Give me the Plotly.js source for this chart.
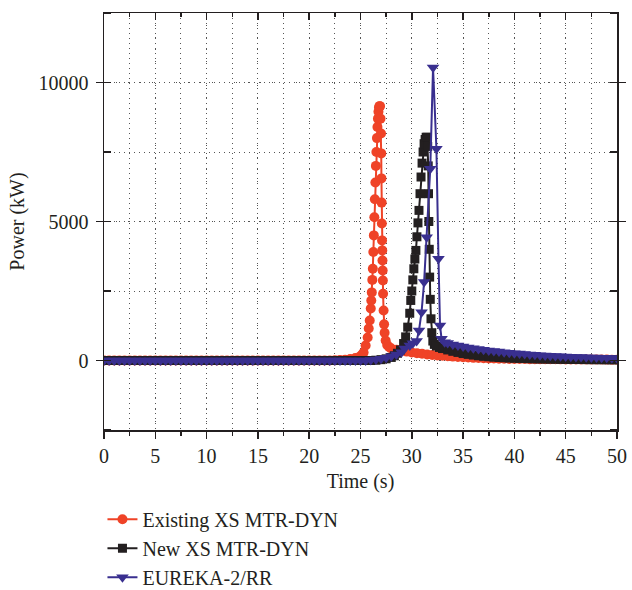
<!DOCTYPE html>
<html>
<head>
<meta charset="utf-8">
<script src="https://cdn.plot.ly/plotly-3.0.1.min.js"></script>
<style>html,body{margin:0;padding:0;background:#fff;}#chart{width:632px;height:590px;}</style>
</head>
<body>
<div id="chart"></div>
<script>
// ---- Data ----
const seriesNames = ["Existing XS MTR-DYN", "New XS MTR-DYN", "EUREKA-2/RR"];

const tExisting = [0,0.5,1,1.5,2,2.5,3,3.5,4,4.5,5,5.5,6,6.5,7,7.5,8,8.5,9,9.5,10,10.5,11,11.5,12,12.5,13,13.5,14,14.5,15,15.5,16,16.5,17,17.5,18,18.5,19,19.5,20,20.5,21,21.5,22,
  22.5,23,23.5,24,24.5,25,25.2,25.3,25.5,25.7,25.8,25.9,26.0,26.05,26.1,26.15,26.2,26.25,26.3,26.35,26.4,26.45,26.5,26.55,26.6,26.65,26.7,26.75,26.8,26.85,26.9,26.95,27.0,27.02,27.04,27.06,27.08,27.1,27.12,27.14,27.16,27.18,27.2,27.25,27.3,27.35,27.45,27.6,27.8,
  28,28.5,29,29.5,30,30.5,31,31.5,32,32.5,33,33.5,34,34.5,35,35.5,36,36.5,37,37.5,38,38.5,39,39.5,40,40.5,41,41.5,42,42.5,43,43.5,44,44.5,45,45.5,46,46.5,47,47.5,48,48.5,49,49.5,50];
const pExisting = [0,0,0,0,0,0,0,0,0,0,0,0,0,0,0,0,0,0,0,0,0,0,0,0,0,0,0,0,0,0,0,0,0,0,0,0,0,0,0,0,0,0,0,0,0,
  5,15,30,50,90,160,220,290,540,830,1150,1440,1870,2160,2450,2900,3300,3900,4500,5150,5800,6400,7000,7500,8000,8400,8700,8950,9100,9150,9150,8700,8165,7450,6550,5680,4930,4320,3960,3600,3240,2880,2400,1800,1300,1000,720,560,480,
  430,390,350,320,290,265,240,215,195,180,170,155,140,128,115,105,95,88,80,75,70,66,62,58,55,53,51,49,47,45,44,43,42,41,40,39,38,37,36,35,34,33,32,31,30];

const tNew = [0,0.5,1,1.5,2,2.5,3,3.5,4,4.5,5,5.5,6,6.5,7,7.5,8,8.5,9,9.5,10,10.5,11,11.5,12,12.5,13,13.5,14,14.5,15,15.5,16,16.5,17,17.5,18,18.5,19,19.5,20,20.5,21,21.5,22,22.5,23,23.5,24,24.5,25,25.5,26,
  26.5,27,27.5,28,28.3,28.6,28.9,29.2,29.4,29.6,29.8,29.9,30.0,30.1,30.2,30.3,30.4,30.5,30.6,30.7,30.8,30.9,31.0,31.1,31.2,31.3,31.4,31.5,31.55,31.6,31.63,31.66,31.7,31.74,31.8,31.87,31.95,32.05,32.2,32.4,32.7,
  33,33.5,34,34.5,35,35.5,36,36.5,37,37.5,38,38.5,39,39.5,40,40.5,41,41.5,42,42.5,43,43.5,44,44.5,45,45.5,46,46.5,47,47.5,48,48.5,49,49.5,50];
const pNew = [0,0,0,0,0,0,0,0,0,0,0,0,0,0,0,0,0,0,0,0,0,0,0,0,0,0,0,0,0,0,0,0,0,0,0,0,0,0,0,0,0,0,0,0,0,0,0,0,0,0,0,0,0,
  10,30,60,110,170,260,380,610,850,1200,1700,2160,2500,2900,3300,3650,3960,4450,4950,5400,6000,6600,7100,7500,7800,7950,8030,8030,7700,7000,6000,5000,4000,3000,2200,1500,1000,700,580,520,470,
  430,380,330,290,250,220,195,170,150,135,120,108,98,90,82,76,70,65,60,56,52,49,46,43,40,38,36,34,32,30,29,28,26,25,24];

const tEureka = [0,0.5,1,1.5,2,2.5,3,3.5,4,4.5,5,5.5,6,6.5,7,7.5,8,8.5,9,9.5,10,10.5,11,11.5,12,12.5,13,13.5,14,14.5,15,15.5,16,16.5,17,17.5,18,18.5,19,19.5,20,20.5,21,21.5,22,22.5,23,23.5,24,24.5,25,25.5,26,
  26.5,27,27.5,28,28.5,29.0,29.3,29.8,30.1,30.47,30.7,30.95,31.2,31.45,31.8,32.07,32.4,32.6,32.75,32.9,33.2,33.5,
  34,34.5,35,35.5,36,36.5,37,37.5,38,38.5,39,39.5,40,40.5,41,41.5,42,42.5,43,43.5,44,44.5,45,45.5,46,46.5,47,47.5,48,48.5,49,49.5,50];
const pEureka = [0,0,0,0,0,0,0,0,0,0,0,0,0,0,0,0,0,0,0,0,0,0,0,0,0,0,0,0,0,0,0,0,0,0,0,0,0,0,0,0,0,0,0,0,0,0,0,0,0,0,0,0,20,
  40,60,100,150,220,300,430,540,620,700,1080,1740,2820,4430,6900,10540,7620,3660,1260,780,660,630,
  580,540,500,470,440,410,385,360,340,320,300,280,265,250,235,220,205,190,178,168,158,150,142,135,128,122,115,110,105,100,95,90,85];

const xTickVals = [0,5,10,15,20,25,30,35,40,45,50];
const yTickVals = [0,5000,10000];

// ---- Styles ----
const colors = ["#ef4327", "#231f20", "#392f8f"];
const ink = "#231f20";
const gridCol = "#555555";

const traces = [
  {x: tExisting, y: pExisting, name: seriesNames[0], type: "scatter", mode: "lines+markers",
   line: {color: colors[0], width: 2}, marker: {symbol: "circle", size: 10, color: colors[0]}},
  {x: tNew, y: pNew, name: seriesNames[1], type: "scatter", mode: "lines+markers",
   line: {color: colors[1], width: 2}, marker: {symbol: "square", size: 9, color: colors[1]}},
  {x: tEureka, y: pEureka, name: seriesNames[2], type: "scatter", mode: "lines+markers",
   line: {color: colors[2], width: 2}, marker: {symbol: "triangle-down", size: 11, color: colors[2]}},
  {x: [], y: [], xaxis: "x2", showlegend: false, hoverinfo: "skip", type: "scatter", mode: "markers"}
];

const layout = {
  width: 632, height: 590,
  margin: {l: 104, r: 15, t: 13, b: 160},
  paper_bgcolor: "#fff", plot_bgcolor: "#fff",
  font: {family: "Liberation Serif, 'DejaVu Serif', serif", size: 20, color: ink},
  showlegend: true,
  legend: {x: -0.003, y: 0.153, yref: "container", xanchor: "left", yanchor: "top",
           bgcolor: "rgba(0,0,0,0)", font: {size: 20, color: ink}, tracegroupgap: 0},
  xaxis: {
    range: [0, 50], tickvals: xTickVals, ticktext: xTickVals.map(String),
    ticks: "outside", ticklen: 7, tickwidth: 1.5, tickcolor: ink,
    showline: true, linewidth: 1.5, linecolor: ink, mirror: true,
    showgrid: true, gridcolor: gridCol, gridwidth: 1, griddash: "1px,11px", zeroline: false,
    minor: {dtick: 2.5, tick0: 0, ticks: "outside", ticklen: 4, tickwidth: 1.5, tickcolor: ink,
            showgrid: true, gridcolor: gridCol, gridwidth: 1, griddash: "1px,4px"},
    tickfont: {size: 20},
    title: {text: "Time (s)", font: {size: 20}, standoff: 8}
  },
  xaxis2: {
    overlaying: "x", side: "top", anchor: "y", range: [0, 50], tickvals: xTickVals,
    showticklabels: false, ticks: "inside", ticklen: 7, tickwidth: 1.5, tickcolor: ink,
    showgrid: false, showline: false, zeroline: false,
    minor: {dtick: 2.5, tick0: 0, ticks: "inside", ticklen: 4, tickwidth: 1.5, tickcolor: ink, showgrid: false}
  },
  yaxis: {
    range: [-2500, 12500], tickvals: yTickVals, ticktext: yTickVals.map(String),
    ticks: "outside", ticklen: 7, tickwidth: 1.5, tickcolor: ink,
    showline: true, linewidth: 1.5, linecolor: ink, mirror: "allticks",
    showgrid: true, gridcolor: gridCol, gridwidth: 1, griddash: "1px,11px", zeroline: false,
    minor: {dtick: 2500, tick0: 0, ticks: "inside", ticklen: 5, tickwidth: 1.5, tickcolor: ink,
            showgrid: true, gridcolor: gridCol, gridwidth: 1, griddash: "1px,4px"},
    tickfont: {size: 20}, ticklabelstandoff: 3,
    title: {text: "Power (kW)", font: {size: 20}, standoff: 8}
  }
};

Plotly.newPlot("chart", traces, layout, {staticPlot: true, displayModeBar: false});
</script>
</body>
</html>
